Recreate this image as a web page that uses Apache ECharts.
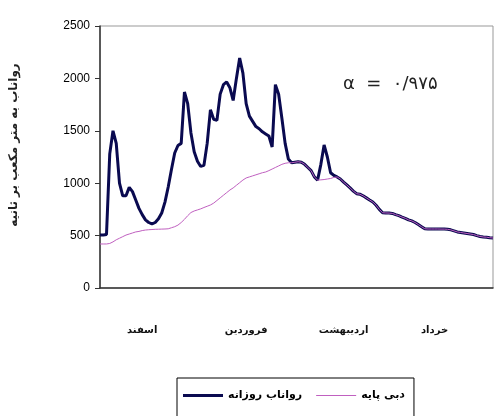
<!DOCTYPE html>
<html><head><meta charset="utf-8">
<script src="https://cdn.jsdelivr.net/npm/echarts@6/dist/echarts.min.js"></script>
<style>html,body{margin:0;padding:0;background:#fff}#c{width:495px;height:416px}</style>
</head><body><div id="c"></div>
<script>
const dailyRunoff = [505,505,510,1280,1500,1380,1000,880,880,960,920,840,760,700,650,625,611,625,660,716,
820,964,1130,1288,1360,1380,1870,1760,1480,1300,1210,1160,1170,1380,1700,1610,1600,1850,1940,1966,
1910,1790,2000,2195,2050,1760,1640,1590,1540,1520,1490,1470,1450,1345,1940,1850,1620,1380,1230,1195,
1200,1205,1200,1180,1150,1120,1060,1030,1180,1365,1250,1100,1075,1060,1040,1010,983,955,925,900,
895,880,860,840,821,790,750,718,716,715,712,700,690,677,665,650,640,625,605,585,
565,563,563,563,563,562,562,560,555,545,535,530,525,520,515,510,500,492,487,485,480,477];
const baseFlow = [420,420,420,425,440,460,475,490,505,515,525,535,540,548,553,556,558,560,561,562,
563,565,575,585,600,625,655,690,720,735,745,755,768,780,792,810,835,860,885,910,
935,955,980,1005,1030,1050,1060,1070,1080,1090,1100,1107,1120,1135,1150,1165,1180,1190,1195,1195,
1200,1205,1200,1180,1150,1120,1060,1030,1032,1035,1040,1045,1055,1060,1040,1010,983,955,925,900,
895,880,860,840,821,790,750,718,716,715,712,700,690,677,665,650,640,625,605,585,
565,563,563,563,563,562,562,560,555,545,535,530,525,520,515,510,500,492,487,485,480,477];
const days = dailyRunoff.map((_, i) => String(i + 1));
const monthLabels = ['اسفند', 'فروردین', 'اردیبهشت', 'خرداد'];
const monthLabelIdx = [13, 45, 75, 103];
const yTicks = [0, 500, 1000, 1500, 2000, 2500];
const seriesNames = ['رواناب روزانه', 'دبی پایه'];
const yName = 'رواناب به متر مکعب بر ثانیه';
const alphaText = 'α  =  ۰/۹۷۵';

const chart = echarts.init(document.getElementById('c'), null, {renderer: 'canvas'});
chart.setOption({
  animation: false,
  backgroundColor: '#fff',
  grid: {left: 100, right: 2, top: 26, bottom: 128, show: true, borderColor: '#999', borderWidth: 1},
  xAxis: {
    type: 'category', data: days, boundaryGap: false,
    axisLine: {lineStyle: {color: '#333', width: 1.5}},
    axisTick: {show: false},
    axisLabel: {
      interval: (i) => monthLabelIdx.includes(i),
      formatter: (v, i) => { const k = monthLabelIdx.indexOf(i); return k >= 0 ? monthLabels[k] : ''; },
      margin: 37, fontFamily: 'DejaVu Sans', fontSize: 10, fontWeight: 'bold', color: '#111'
    },
    splitLine: {show: false}
  },
  yAxis: {
    type: 'value', min: yTicks[0], max: yTicks[yTicks.length - 1], interval: 500,
    name: yName, nameLocation: 'middle', nameRotate: 90, nameGap: 80,
    nameTextStyle: {fontFamily: 'DejaVu Sans', fontSize: 12, fontWeight: 'bold', color: '#222', padding: [0, 0, 0, 24]},
    axisLine: {show: true, lineStyle: {color: '#333', width: 1.5}},
    axisTick: {show: true, length: 5, lineStyle: {color: '#333'}},
    axisLabel: {margin: 10, fontFamily: 'Liberation Sans', fontSize: 12, color: '#000', formatter: (v) => String(v)},
    splitLine: {show: false}
  },
  legend: {
    data: [
      {name: seriesNames[0], icon: 'rect'},
      {name: seriesNames[1], icon: 'path://M0,0 L40,0 L40,0.01 L0,0.01 Z M0,1 L40,1 L40,2 L0,2 Z M0,2.99 L40,2.99 L40,3 L0,3 Z'}
    ],
    left: 177, top: 378,
    borderColor: '#000', borderWidth: 1, padding: [12, 9, 30, 6], itemGap: 14,
    itemWidth: 40, itemHeight: 3,
    textStyle: {fontFamily: 'DejaVu Sans', fontSize: 11, fontWeight: 'bold', color: '#000'}
  },
  graphic: [{type: 'text', left: 343, top: 75, style: {text: alphaText, font: '18px "DejaVu Sans"', fill: '#222'}}],
  series: [
    {name: seriesNames[0], type: 'line', data: dailyRunoff, symbol: 'none', z: 3,
     lineStyle: {color: '#0a0a50', width: 3}, itemStyle: {color: '#0a0a50'}},
    {name: seriesNames[1], type: 'line', data: baseFlow, symbol: 'none', z: 4,
     lineStyle: {color: '#c060c0', width: 1}, itemStyle: {color: '#c060c0'}}
  ]
});
</script></body></html>
